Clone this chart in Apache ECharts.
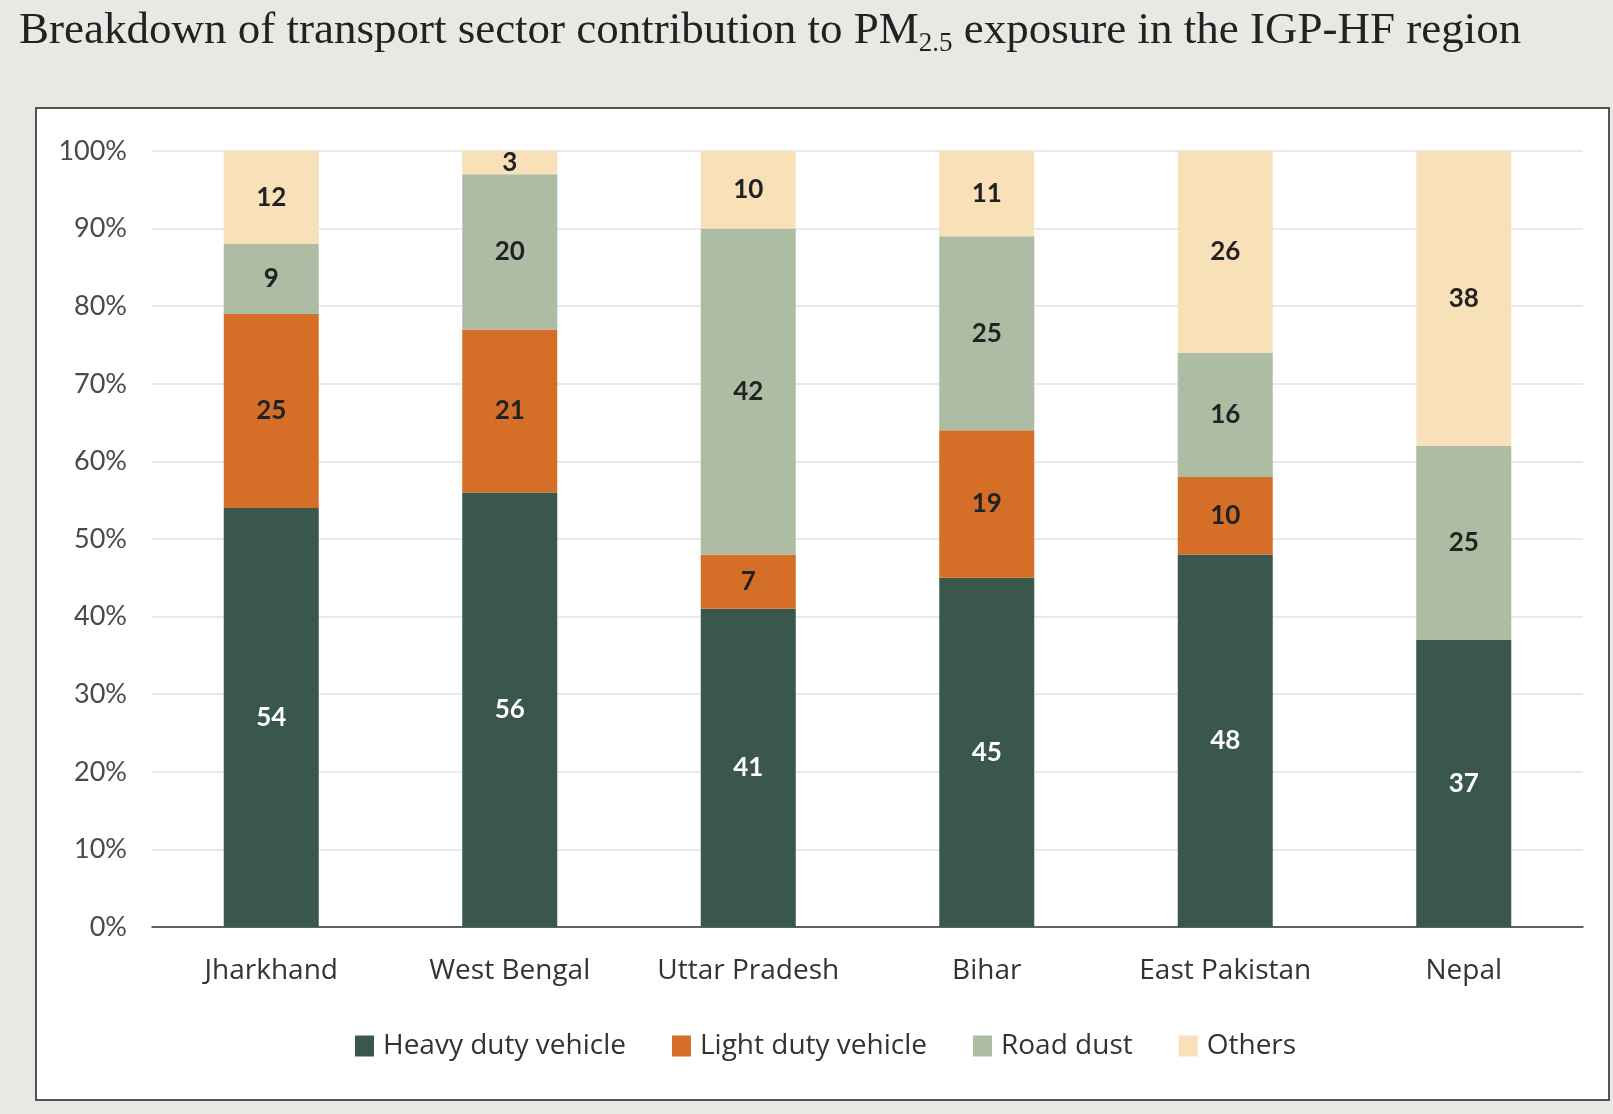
<!DOCTYPE html>
<html>
<head>
<meta charset="utf-8">
<script src="https://cdn.jsdelivr.net/npm/echarts@6/dist/echarts.min.js"></script>
<style>
html, body { margin: 0; padding: 0; background: #e7eae4; }
#chart { width: 1613px; height: 1114px; }
</style>
</head>
<body>
<div id="chart"></div>
<script>
var regions = ['Jharkhand', 'West Bengal', 'Uttar Pradesh', 'Bihar', 'East Pakistan', 'Nepal'];
var heavyDuty = [54, 56, 41, 45, 48, 37];
var lightDuty = [25, 21, 7, 19, 10, 0];
var roadDust = [9, 20, 42, 25, 16, 25];
var others = [12, 3, 10, 11, 26, 38];
var yTicks = [0, 10, 20, 30, 40, 50, 60, 70, 80, 90, 100];

var labelFont = 'Lato';
var textFont = '"Open Sans"';

function seg(name, data, color, labelColor) {
    return {
        name: name,
        type: 'bar',
        stack: 'total',
        barWidth: 95,
        data: data,
        itemStyle: { color: color },
        label: {
            show: true,
            position: 'inside',
            color: labelColor,
            fontFamily: labelFont,
            fontWeight: 'bold',
            fontSize: 26,
            formatter: function (p) { return p.value ? p.value : ''; }
        }
    };
}

var chart = echarts.init(document.getElementById('chart'));
chart.setOption({
    backgroundColor: '#e7eae4',
    animation: false,
    graphic: [{
        type: 'rect',
        left: 35, top: 107,
        shape: { width: 1573, height: 992 },
        style: { fill: '#ffffff', stroke: '#555555', lineWidth: 2 },
        z: -10
    }],
    title: {
        left: 14,
        top: 1,
        text: '{a|Breakdown of transport sector contribution to PM}{s|2.5}{a| exposure in the IGP-HF region}',
        textStyle: {
            rich: {
                a: { fontFamily: '"Liberation Serif"', fontWeight: 'normal', fontSize: 45, color: '#222', lineHeight: 50 },
                s: { fontFamily: '"Liberation Serif"', fontWeight: 'normal', fontSize: 27, color: '#222', padding: [24, 0, 0, 0] }
            }
        }
    },
    legend: {
        left: 350,
        top: 1027,
        itemWidth: 19,
        itemHeight: 21,
        itemGap: 46,
        icon: 'rect',
        textStyle: { fontFamily: textFont, fontSize: 28, color: '#333', padding: [0, 0, 0, 4] },
        data: ['Heavy duty vehicle', 'Light duty vehicle', 'Road dust', 'Others']
    },
    grid: { left: 152, right: 30, top: 151, bottom: 187 },
    xAxis: {
        type: 'category',
        data: regions,
        axisTick: { show: false },
        axisLine: { lineStyle: { color: '#333', width: 1.5 } },
        axisLabel: { fontFamily: textFont, fontSize: 28, color: '#333', margin: 30 }
    },
    yAxis: {
        type: 'value',
        min: yTicks[0],
        max: yTicks[yTicks.length - 1],
        interval: 10,
        axisLine: { show: false },
        axisTick: { show: false },
        splitLine: { lineStyle: { color: '#e2e2e2', width: 1.5 } },
        axisLabel: { formatter: '{value}%', fontFamily: labelFont, fontSize: 27, color: '#4a4a4a', margin: 25 }
    },
    series: [
        seg('Heavy duty vehicle', heavyDuty, '#3a574b', '#ffffff'),
        seg('Light duty vehicle', lightDuty, '#d56f28', '#222'),
        seg('Road dust', roadDust, '#adbda3', '#222'),
        seg('Others', others, '#f8e1b8', '#222')
    ]
});
</script>
</body>
</html>
